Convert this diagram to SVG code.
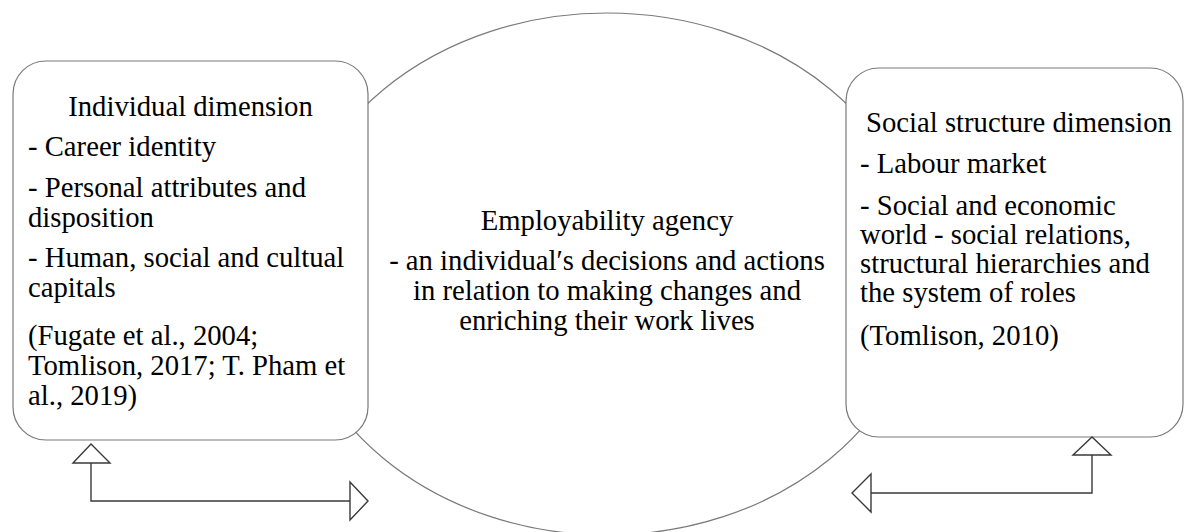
<svg xmlns="http://www.w3.org/2000/svg" width="1186" height="532" viewBox="0 0 1186 532">
  <style>
    .shape { fill: #ffffff; stroke: #7a7a7a; stroke-width: 1.2; }
    .txt { font-family: "Liberation Serif", "Times New Roman", serif; font-size: 28.7px; fill: #000000; }
    .mid { text-anchor: middle; }
    .link { fill: none; stroke: #3a3a3a; stroke-width: 1.4; }
    .head { fill: #ffffff; stroke: #3a3a3a; stroke-width: 1.4; stroke-linejoin: miter; }
  </style>
  <rect width="1186" height="532" fill="#ffffff"/>

  <!-- central agency ellipse, drawn first so the side boxes overlap it -->
  <g id="node-agency">
    <ellipse class="shape" cx="607" cy="274" rx="316" ry="261"/>
    <text class="txt mid" x="607" y="230">Employability agency</text>
    <text class="txt mid" x="607" y="270">- an individual′s decisions and actions</text>
    <text class="txt mid" x="607" y="300">in relation to making changes and</text>
    <text class="txt mid" x="607" y="330">enriching their work lives</text>
  </g>

  <g id="node-individual">
    <rect class="shape" x="13" y="61" width="355" height="379" rx="33" ry="33"/>
    <text class="txt mid" x="190.5" y="116">Individual dimension</text>
    <text class="txt" x="28" y="156">- Career identity</text>
    <text class="txt" x="28" y="197">- Personal attributes and</text>
    <text class="txt" x="28" y="227">disposition</text>
    <text class="txt" x="28" y="267">- Human, social and cultual</text>
    <text class="txt" x="28" y="297">capitals</text>
    <text class="txt" x="28" y="345">(Fugate et al., 2004;</text>
    <text class="txt" x="28" y="375">Tomlison, 2017; T. Pham et</text>
    <text class="txt" x="28" y="405">al., 2019)</text>
  </g>

  <g id="node-social">
    <rect class="shape" x="846" y="68" width="337" height="369" rx="33" ry="33"/>
    <text class="txt mid" x="1019" y="132">Social structure dimension</text>
    <text class="txt" x="860" y="173">- Labour market</text>
    <text class="txt" x="860" y="215">- Social and economic</text>
    <text class="txt" x="860" y="244">world - social relations,</text>
    <text class="txt" x="860" y="273">structural hierarchies and</text>
    <text class="txt" x="860" y="302">the system of roles</text>
    <text class="txt" x="860" y="345"> (Tomlison, 2010)</text>
  </g>

  <!-- two-way connectors with hollow triangular heads -->
  <g id="connectors">
    <polyline class="link" points="91,463 91,501 350,501"/>
    <polygon class="head" points="73,463 91,444 110,463"/>
    <polygon class="head" points="350,482 368,501 350,520"/>

    <polyline class="link" points="1092,455 1092,493 871,493"/>
    <polygon class="head" points="1073,455 1092,437 1111,455"/>
    <polygon class="head" points="871,474 852,493 871,512"/>
  </g>
</svg>
